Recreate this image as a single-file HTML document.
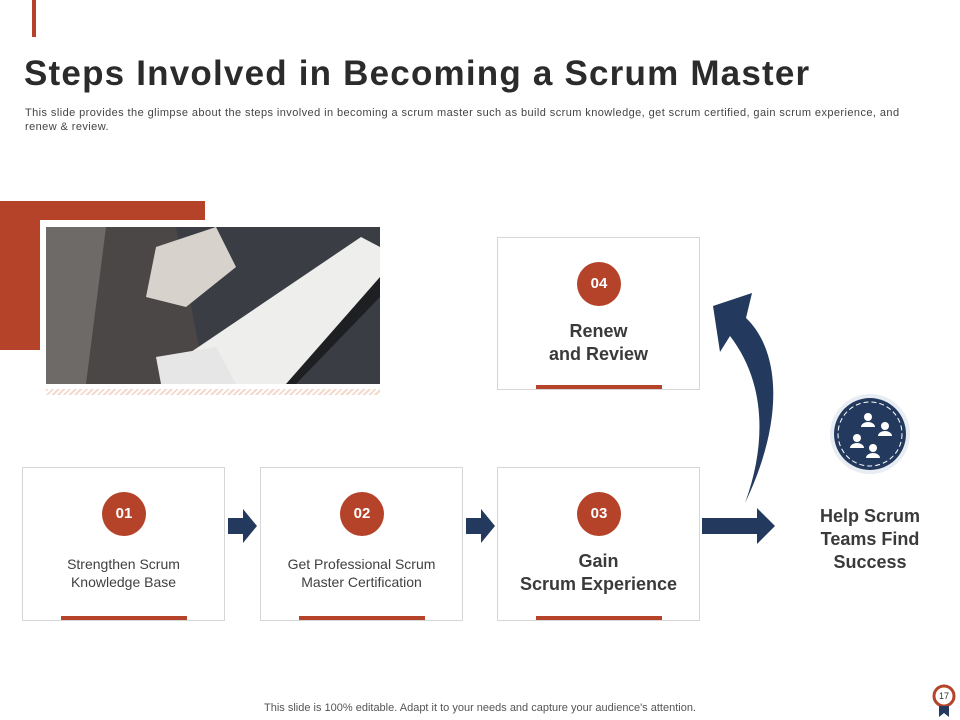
<!DOCTYPE html>
<html><head><meta charset="utf-8"><style>
*{margin:0;padding:0;box-sizing:border-box}
body{width:960px;height:720px;position:relative;background:#fff;font-family:"Liberation Sans",sans-serif;overflow:hidden;color:#404040}
.a{position:absolute}
.box{position:absolute;border:1px solid #d6d6d6;background:#fff;width:203px;height:154px}
.num{position:absolute;width:44px;height:44px;border-radius:50%;background:#b5432a;color:#fff;font-weight:bold;font-size:15px;text-align:center;line-height:44px;left:79px;top:24px}
.bar{position:absolute;left:38px;width:126px;height:4px;bottom:0;background:#b5432a}
.t{position:absolute;left:0;width:100%;text-align:center}
.sm{font-size:14px;line-height:18px;color:#404040;top:87px}
.bg{font-size:18px;font-weight:bold;line-height:23px;color:#3a3a3a}
</style></head><body>
<div class="a" style="left:32px;top:0;width:4px;height:37px;background:#b5432a"></div>
<div class="a" style="left:24px;top:54px;font-size:35px;font-weight:bold;color:#2b2b2b;letter-spacing:1.2px">Steps Involved in Becoming a Scrum Master</div>
<div class="a" style="left:25px;top:106px;width:935px;font-size:11px;line-height:14px;color:#444;letter-spacing:0.42px;white-space:nowrap">This slide provides the glimpse about the steps involved in becoming a scrum master such as build scrum knowledge, get scrum certified, gain scrum experience, and<br>renew &amp; review.</div>

<div class="a" style="left:0;top:201px;width:205px;height:149px;background:#b5432a"></div>
<div class="a" style="left:40px;top:220px;width:346px;height:170px;background:#fff"></div>
<svg class="a" style="left:46px;top:227px" width="334" height="157" viewBox="0 0 334 157">
<rect width="334" height="157" fill="#3a3d44"/>
<rect x="0" y="0" width="130" height="157" fill="#6e6a68"/>
<polygon points="60,0 130,0 160,157 40,157" fill="#4a4746"/>
<polygon points="110,20 170,0 190,40 140,80 100,70" fill="#d8d2cc"/>
<polygon points="140,130 320,20 334,40 334,70 250,157 170,157" fill="#1e1f22"/>
<polygon points="145,125 315,10 334,20 334,50 240,157 175,157" fill="#eeeeec"/>
<polygon points="110,130 170,120 190,157 115,157" fill="#e6e6e6"/>
</svg>
<div class="a" style="left:46px;top:389px;width:334px;height:6px;background:repeating-linear-gradient(135deg,#f3d9cc 0 2px,#fff 2px 4px)"></div>

<div class="box" style="left:22px;top:467px"><div class="num">01</div><div class="t sm" style="top:87px">Strengthen Scrum<br>Knowledge Base</div><div class="bar"></div></div>
<div class="box" style="left:260px;top:467px"><div class="num">02</div><div class="t sm" style="top:87px">Get Professional Scrum<br>Master Certification</div><div class="bar"></div></div>
<div class="box" style="left:497px;top:467px"><div class="num">03</div><div class="t bg" style="top:82px">Gain<br>Scrum Experience</div><div class="bar"></div></div>
<div class="box" style="left:497px;top:237px;height:153px"><div class="num">04</div><div class="t bg" style="top:82px">Renew<br>and Review</div><div class="bar"></div></div>

<svg class="a" style="left:0;top:0" width="960" height="720">
<g fill="#233a5e">
<polygon points="228,518 243,518 243,509 257,526 243,543 243,534 228,534"/>
<polygon points="466,518 481,518 481,509 495,526 481,543 481,534 466,534"/>
<polygon points="702,518 757,518 757,508 775,526 757,544 757,534 702,534"/>
<path d="M745,503 C785,420 780,350 746,318 L752,293 L713,306 L720,352 L730,336 C764,380 768,440 745,503 Z"/>
<circle cx="870" cy="434" r="40" fill="#e8ecf3"/>
<circle cx="870" cy="434" r="36"/>
<circle cx="870" cy="434" r="32" fill="none" stroke="#fff" stroke-width="1" stroke-dasharray="5 3"/>
</g>
<g fill="#fff">
<circle cx="868" cy="417" r="4"/><path d="M861,427 a7,5 0 0 1 14,0z"/>
<circle cx="885" cy="426" r="4"/><path d="M878,436 a7,5 0 0 1 14,0z"/>
<circle cx="857" cy="438" r="4"/><path d="M850,448 a7,5 0 0 1 14,0z"/>
<circle cx="873" cy="448" r="4"/><path d="M866,458 a7,5 0 0 1 14,0z"/>
</g>
<circle cx="944" cy="696" r="10" fill="#fff" stroke="#b5432a" stroke-width="3"/>
<polygon points="939,706 949,706 949,717 944,713 939,717" fill="#233a5e"/>
<text x="944" y="699" font-size="9" text-anchor="middle" fill="#333" font-family="Liberation Sans">17</text>
</svg>
<div class="a" style="left:790px;top:505px;width:160px;text-align:center;font-size:18px;font-weight:bold;line-height:23px;color:#3a3a3a">Help Scrum<br>Teams Find<br>Success</div>
<div class="a" style="left:0;top:702px;width:960px;text-align:center;font-size:11px;color:#555">This slide is 100% editable. Adapt it to your needs and capture your audience's attention.</div>
</body></html>
